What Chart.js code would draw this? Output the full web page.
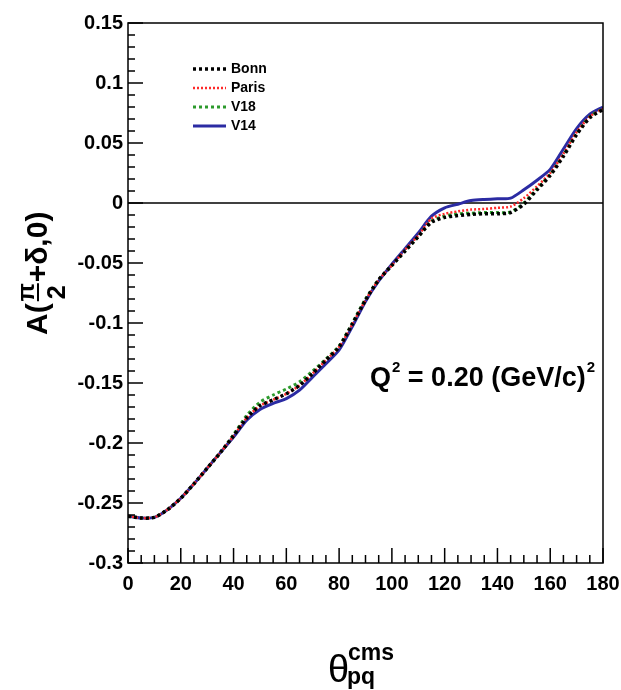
<!DOCTYPE html>
<html>
<head>
<meta charset="utf-8">
<script src="https://cdn.jsdelivr.net/npm/chart.js@4.4.1/dist/chart.umd.min.js"></script>
<style>
  html, body { margin: 0; padding: 0; background: #fff; }
  #wrap { width: 621px; height: 690px; position: relative; }
</style>
</head>
<body>
<div id="wrap"><canvas id="grafico"></canvas></div>
<script>
// Datos: asimetria A(pi/2+delta,0) frente a theta_pq (cms)
const theta = [0, 5, 10, 15, 20, 25, 30, 35, 40, 45, 50, 55, 60, 65, 70, 75, 80, 85, 90,
  95, 100, 105, 110, 115, 120, 125, 130, 135, 140, 145, 150, 155, 160, 165, 170, 175, 180];

const bonn = [-0.261, -0.2625, -0.262, -0.2555, -0.246, -0.234, -0.221, -0.208, -0.194, -0.179,
  -0.169, -0.164, -0.159, -0.152, -0.142, -0.131, -0.120, -0.101, -0.081, -0.064, -0.052, -0.040,
  -0.028, -0.016, -0.012, -0.0105, -0.0095, -0.009, -0.009, -0.008, -0.001, 0.011, 0.023, 0.039,
  0.057, 0.071, 0.078];
const paris = [-0.261, -0.2625, -0.262, -0.2555, -0.246, -0.234, -0.221, -0.208, -0.194, -0.179,
  -0.169, -0.164, -0.159, -0.152, -0.142, -0.131, -0.120, -0.101, -0.081, -0.064, -0.052, -0.039,
  -0.027, -0.013, -0.009, -0.007, -0.0055, -0.005, -0.004, -0.003, 0.004, 0.014, 0.025, 0.041,
  0.059, 0.072, 0.0785];
const v18 = [-0.261, -0.2625, -0.262, -0.2555, -0.246, -0.234, -0.221, -0.208, -0.193, -0.177,
  -0.166, -0.160, -0.155, -0.149, -0.140, -0.130, -0.119, -0.100, -0.080, -0.064, -0.052, -0.040,
  -0.028, -0.015, -0.011, -0.009, -0.0085, -0.008, -0.008, -0.0075, 0.000, 0.012, 0.024, 0.040,
  0.058, 0.072, 0.0785];
const v14 = [-0.261, -0.2625, -0.262, -0.2555, -0.246, -0.234, -0.221, -0.208, -0.195, -0.181,
  -0.172, -0.167, -0.163, -0.156, -0.145, -0.134, -0.1225, -0.103, -0.082, -0.065, -0.051, -0.038,
  -0.025, -0.011, -0.004, -0.001, 0.002, 0.003, 0.0035, 0.004, 0.011, 0.019, 0.028, 0.045,
  0.062, 0.074, 0.080];

const xTickValues = [0, 20, 40, 60, 80, 100, 120, 140, 160, 180];
const xTickLabels = ["0", "20", "40", "60", "80", "100", "120", "140", "160", "180"];
const yTickValues = [-0.3, -0.25, -0.2, -0.15, -0.1, -0.05, 0, 0.05, 0.1, 0.15];
const yTickLabels = ["-0.3", "-0.25", "-0.2", "-0.15", "-0.1", "-0.05", "0", "0.05", "0.1", "0.15"];

const FUENTE = "'Liberation Sans', Arial, sans-serif";

function puntos(serie) {
  return theta.map((t, i) => ({ x: t, y: serie[i] }));
}

function etiqueta(valores, etiquetas, v) {
  const i = valores.findIndex(a => Math.abs(a - v) < 1e-6);
  return i >= 0 ? etiquetas[i] : "";
}

// Marco, marcas interiores, linea del cero, leyenda y titulos
const decoracion = {
  id: "decoracion",
  beforeDatasetsDraw(chart) {
    const { ctx, chartArea: a, scales: { y } } = chart;
    const y0 = y.getPixelForValue(0);
    ctx.save();
    ctx.strokeStyle = "#000";
    ctx.lineWidth = 1.5;
    ctx.beginPath();
    ctx.moveTo(a.left, y0);
    ctx.lineTo(a.right, y0);
    ctx.stroke();
    ctx.restore();
  },
  afterDraw(chart) {
    const { ctx, chartArea: a, scales: { x, y } } = chart;
    ctx.save();
    ctx.strokeStyle = "#000";
    ctx.lineWidth = 1.5;
    ctx.strokeRect(a.left, a.top, a.right - a.left, a.bottom - a.top);

    // marcas del eje x (cada 5, mayores cada 20)
    ctx.beginPath();
    for (let v = 0; v <= 180; v += 5) {
      const px = x.getPixelForValue(v);
      const largo = v % 20 === 0 ? 15 : 8;
      ctx.moveTo(px, a.bottom);
      ctx.lineTo(px, a.bottom - largo);
    }
    // marcas del eje y (cada 0.01, mayores cada 0.05)
    for (let k = -30; k <= 15; k++) {
      const py = y.getPixelForValue(k / 100);
      const largo = k % 5 === 0 ? 15 : 7;
      ctx.moveTo(a.left, py);
      ctx.lineTo(a.left + largo, py);
    }
    ctx.stroke();

    // leyenda
    ctx.font = "bold 14px " + FUENTE;
    ctx.textBaseline = "middle";
    ctx.textAlign = "left";
    chart.data.datasets.forEach((ds, i) => {
      const ly = 69 + i * 19;
      ctx.save();
      ctx.strokeStyle = ds.borderColor;
      ctx.lineWidth = ds.borderWidth;
      ctx.setLineDash(ds.borderDash || []);
      ctx.beginPath();
      ctx.moveTo(193, ly);
      ctx.lineTo(226, ly);
      ctx.stroke();
      ctx.restore();
      ctx.fillStyle = "#000";
      ctx.fillText(ds.label, 231, ly);
    });

    // anotacion Q^2
    ctx.fillStyle = "#000";
    ctx.textBaseline = "alphabetic";
    let cx = 370;
    const base = 386;
    ctx.font = "bold 27px " + FUENTE;
    ctx.fillText("Q", cx, base);
    cx += ctx.measureText("Q").width + 1;
    ctx.font = "bold 15px " + FUENTE;
    ctx.fillText("2", cx, base - 14);
    cx += ctx.measureText("2").width;
    ctx.font = "bold 27px " + FUENTE;
    const resto = " = 0.20 (GeV/c)";
    ctx.fillText(resto, cx, base);
    cx += ctx.measureText(resto).width + 1;
    ctx.font = "bold 15px " + FUENTE;
    ctx.fillText("2", cx, base - 14);

    // titulo eje x: theta con superindice cms y subindice pq
    ctx.font = "38px " + FUENTE;
    ctx.fillText("\u03b8", 328, 682);
    ctx.font = "bold 23px " + FUENTE;
    ctx.fillText("cms", 348, 660);
    ctx.fillText("pq", 347, 684);

    // titulo eje y: A(pi/2 + delta, 0), girado
    ctx.save();
    ctx.translate(47, 335);
    ctx.rotate(-Math.PI / 2);
    ctx.font = "bold 30px " + FUENTE;
    ctx.fillText("A(", 0, 0);
    let tx = ctx.measureText("A(").width + 1;
    ctx.textAlign = "center";
    ctx.font = "bold 24px " + FUENTE;
    ctx.fillText("\u03c0", tx + 10, -13);
    ctx.font = "bold 25px " + FUENTE;
    ctx.fillText("2", tx + 10, 18);
    ctx.lineWidth = 2;
    ctx.beginPath();
    ctx.moveTo(tx + 1, -9);
    ctx.lineTo(tx + 19, -9);
    ctx.stroke();
    ctx.textAlign = "left";
    ctx.font = "bold 30px " + FUENTE;
    ctx.fillText("+\u03b4,0)", tx + 20, 0);
    ctx.restore();

    ctx.restore();
  }
};

const ctx = document.getElementById("grafico").getContext("2d");
new Chart(ctx, {
  type: "line",
  data: {
    datasets: [
      { label: "V14", data: puntos(v14), borderColor: "#2b2ba3", borderWidth: 3, borderDash: [] },
      { label: "V18", data: puntos(v18), borderColor: "#2c9a2c", borderWidth: 3, borderDash: [3, 3] },
      { label: "Paris", data: puntos(paris), borderColor: "#ff2a2a", borderWidth: 2.5, borderDash: [2, 2] },
      { label: "Bonn", data: puntos(bonn), borderColor: "#000000", borderWidth: 3.5, borderDash: [3, 3] }
    ].reverse().map(ds => Object.assign(ds, { pointRadius: 0, tension: 0.25, fill: false }))
  },
  options: {
    responsive: true,
    maintainAspectRatio: false,
    animation: false,
    devicePixelRatio: 1,
    layout: { padding: { left: 0, top: 23, right: 18, bottom: 0 } },
    plugins: { legend: { display: false }, tooltip: { enabled: false } },
    scales: {
      x: {
        type: "linear",
        min: 0,
        max: 180,
        grid: { display: false, drawTicks: false },
        border: { display: false },
        ticks: {
          stepSize: 20,
          padding: 9,
          maxRotation: 0,
          color: "#000",
          font: { family: FUENTE, size: 20, weight: "bold" },
          callback: v => etiqueta(xTickValues, xTickLabels, v)
        },
        afterFit(s) { s.height = 127; s.paddingLeft = 0; s.paddingRight = 0; }
      },
      y: {
        type: "linear",
        min: -0.3,
        max: 0.15,
        grid: { display: false, drawTicks: false },
        border: { display: false },
        ticks: {
          stepSize: 0.05,
          padding: 5,
          color: "#000",
          font: { family: FUENTE, size: 20, weight: "bold" },
          callback: v => etiqueta(yTickValues, yTickLabels, v)
        },
        afterFit(s) { s.width = 128; s.paddingTop = 0; s.paddingBottom = 0; }
      }
    }
  },
  plugins: [decoracion]
});
</script>
</body>
</html>
